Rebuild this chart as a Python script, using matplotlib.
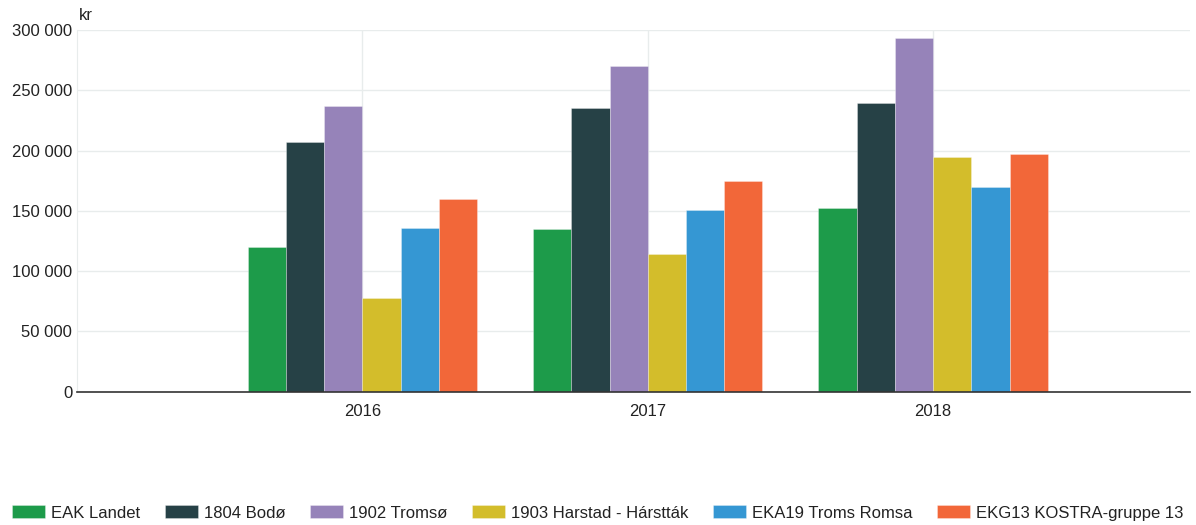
import matplotlib
matplotlib.use("Agg")
import matplotlib.pyplot as plt
import numpy as np
from matplotlib.ticker import FuncFormatter

plt.rcParams['font.family'] = ['Liberation Sans', 'DejaVu Sans']

years = ["2016", "2017", "2018"]
series_names = ["EAK Landet", "1804 Bodø", "1902 Tromsø", "1903 Harstad - Hárstták",
                "EKA19 Troms Romsa", "EKG13 KOSTRA-gruppe 13"]
eak_landet = [120000, 135000, 152000]
bodo = [207000, 235000, 239500]
tromso = [237000, 270500, 293500]
harstad = [77500, 114500, 194500]
eka19 = [136000, 151000, 169500]
ekg13 = [159500, 175000, 197000]
values = [eak_landet, bodo, tromso, harstad, eka19, ekg13]
colors = ["#1d9b4a", "#264146", "#9683b9", "#d3bd2b", "#3597d3", "#f26739"]
yticks = [0, 50000, 100000, 150000, 200000, 250000, 300000]

fig = plt.figure(figsize=(11.96, 5.25), dpi=100)
ax = fig.add_axes([77/1196, 1 - 391.7/525, (1190-77)/1196, (391.7-30)/525])

x = np.arange(len(years))
n = len(series_names)
bw = 0.134
for i, (name, vals, c) in enumerate(zip(series_names, values, colors)):
    ax.bar(x + (i - (n-1)/2) * bw, vals, width=bw, color=c, label=name,
           edgecolor=(1, 1, 1, 0.35), linewidth=0.6, zorder=3)

ax.set_xlim(-1, 2.9)
ax.set_ylim(0, 300000)
ax.set_yticks(yticks)
ax.yaxis.set_major_formatter(FuncFormatter(lambda v, p: f"{int(v):,}".replace(",", " ")))
ax.set_xticks(x)
ax.set_xticklabels(years)
ax.grid(True, axis='both', color='#e8ecec', linewidth=1, zorder=0)
for s in ['top', 'right']:
    ax.spines[s].set_visible(False)
ax.spines['left'].set_color('#e8ecec')
ax.spines['bottom'].set_color('#333333')
ax.spines['bottom'].set_linewidth(1.2)
ax.spines['bottom'].set_zorder(4)
ax.tick_params(axis='y', length=0, labelsize=12, colors='#222222', pad=3.5)
ax.tick_params(axis='x', length=0, labelsize=12, colors='#222222', pad=9)

fig.text(79/1196, 1 - 16/525, "kr", fontsize=12, color='#222222', va='center', ha='left')

leg = fig.legend(loc='center left', bbox_to_anchor=(12/1196, 1 - 513/525), ncol=6, frameon=False,
                 fontsize=12, handlelength=1.98, handleheight=0.78, handletextpad=0.38,
                 columnspacing=1.45, borderaxespad=0, borderpad=0)
for t in leg.get_texts():
    t.set_color('#222222')

fig.savefig("out.png", dpi=100, facecolor='white')
